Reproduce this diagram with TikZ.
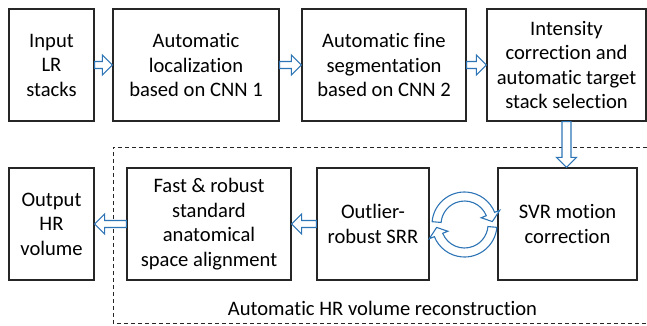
\documentclass[tikz,border=0pt]{standalone}
\usepackage{fontspec}
\setmainfont[Ligatures=NoCommon]{Carlito}
\usetikzlibrary{calc,positioning}
\definecolor{flowblue}{HTML}{2E75B6}
\definecolor{boxline}{HTML}{262626}
% hollow block arrow from #2 to #3, #1 = half width of the shaft
\newcommand{\blockarrow}[3][3.5pt]{%
  \draw[hollow] ($(#2)!#1!90:(#3)$) -- ($(#3)!10pt!(#2)!#1!-90:(#2)$)
    -- ($(#3)!10pt!(#2)!10pt!-90:(#2)$) -- (#3)
    -- ($(#3)!10pt!(#2)!10pt!90:(#2)$) -- ($(#3)!10pt!(#2)!#1!90:(#2)$)
    -- ($(#2)!#1!-90:(#3)$) -- cycle;}

\begin{document}
\begin{tikzpicture}[x=1pt, y=1pt,
    box/.style={draw=boxline, line width=1.2pt, align=center, inner sep=2pt,
      minimum height=112pt, font=\fontsize{20.6}{24.5}\selectfont},
    hollow/.style={draw=flowblue, line width=1.1pt, fill=white, line join=miter}]
  \useasboundingbox (0,0) rectangle (647,325);

  % top row
  \node[box, minimum width=85pt] (inp) at (51.5,260) {Input\\LR\\stacks};
  \node[box, minimum width=166pt] (loc) at (196,260) {Automatic\\localization\\based on CNN 1};
  \node[box, minimum width=164pt] (seg) at (384,260) {Automatic fine\\segmentation\\based on CNN 2};
  \node[box, minimum width=159pt] (sel) at (566.5,260) {Intensity\\correction and\\automatic target\\stack selection};

  % reconstruction block
  \draw[boxline, line width=0.9pt, dash pattern=on 4pt off 3pt]
    (647,178) -- (113,178) -- (113,2) -- (647,2);
  \node[font=\fontsize{20.6}{24.5}\selectfont] (rec) at (382.5,17) {Automatic HR volume reconstruction};

  % bottom row
  \node[box, minimum width=85pt] (out) at (51.5,101) {Output\\HR\\volume};
  \node[box, minimum width=164pt] (aln) at (209,101) {Fast \& robust\\standard\\anatomical\\space alignment};
  \node[box, minimum width=112pt] (srr) at (373,101) {Outlier-\\robust SRR};
  \node[box, minimum width=139pt] (svr) at (567.5,101) {SVR motion\\correction};

  % arrows
  \blockarrow{inp.east}{loc.west}
  \blockarrow{loc.east}{seg.west}
  \blockarrow{seg.east}{sel.west}
  \blockarrow[4.5pt]{sel.south}{sel.south |- svr.north}
  \blockarrow{srr.west}{aln.east}
  \blockarrow{aln.west}{out.east}

  % iteration between SRR and SVR
  \coordinate (cyc) at (464.5,100.5);
  \foreach \rot in {0,180}
    \draw[hollow, shift={(cyc)}, rotate=\rot]
      (175:32.5) arc[start angle=175, end angle=22, radius=32.5]
      -- (22:38) -- (6:28) -- (22:18) -- (22:23.5)
      arc[start angle=22, end angle=175, radius=23.5] -- cycle;

\end{tikzpicture}
\end{document}
